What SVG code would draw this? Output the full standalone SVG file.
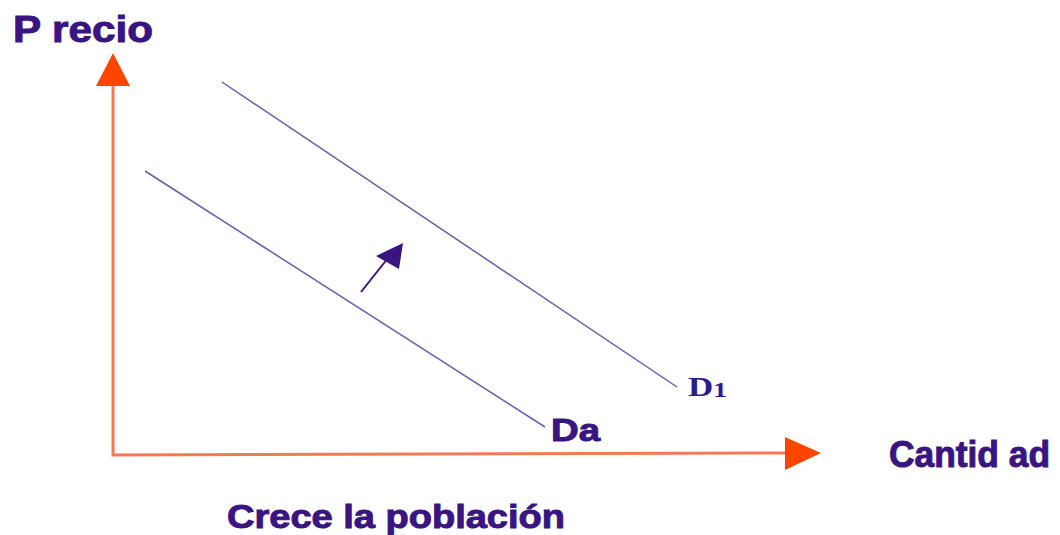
<svg xmlns="http://www.w3.org/2000/svg" width="1060" height="535" viewBox="0 0 1060 535">
<style>
.lbl{font-family:"Liberation Sans",Arial,sans-serif;font-weight:bold;fill:#3a1480;stroke:#3a1480;stroke-width:1}
.axis{stroke:#f27a52;stroke-width:3;fill:none}
.head{fill:#ff4500}
.dem{stroke:#6a5aa8;stroke-width:1.5;fill:none}
</style>
<rect width="1060" height="535" fill="#fff"/>
<g id="axes">
<path class="axis" d="M113,84 L113,455 L786,453"/>
<polygon class="head" points="113,53 96,86 130,86"/>
<polygon class="head" points="821,453 785,437 785,470"/>
</g>
<g id="connectors">
<line class="dem" x1="145" y1="171" x2="545" y2="427"/>
<line class="dem" x1="222" y1="82" x2="677" y2="387"/>
<line x1="361" y1="292" x2="388" y2="258" stroke="#3a1480" stroke-width="2"/>
<polygon points="403,243 376,256 399,269" fill="#3a1480"/>
</g>
<g id="precio"><text class="lbl" x="13" y="42" font-size="36" textLength="140" lengthAdjust="spacingAndGlyphs">P recio</text></g>
<g id="cantidad"><text class="lbl" x="889" y="467" font-size="36" textLength="161" lengthAdjust="spacingAndGlyphs">Cantid ad</text></g>
<g id="d0"><text class="lbl" x="551" y="441" font-size="32" textLength="49" lengthAdjust="spacingAndGlyphs">Da</text></g>
<g id="d1"><text x="688" y="396" font-family="'Liberation Serif','Times New Roman',serif" font-weight="bold" font-size="28" fill="#2a1a8a" textLength="39" lengthAdjust="spacingAndGlyphs">D<tspan font-size="22" dy="1">1</tspan></text></g>
<g id="caption"><text class="lbl" x="227" y="528" font-size="34" textLength="338" lengthAdjust="spacingAndGlyphs">Crece la población</text></g>
</svg>
